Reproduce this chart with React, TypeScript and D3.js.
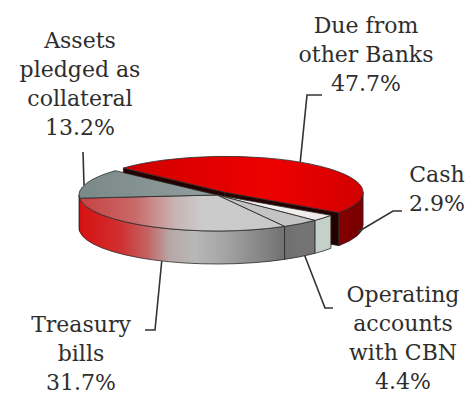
import React, { useEffect, useRef } from 'react'
import * as d3 from 'd3'

// slices in clockwise order, starting with the exploded one
const categories = ['Due from other Banks', 'Cash', 'Operating accounts with CBN', 'Treasury bills', 'Assets pledged as collateral']
const shares = [47.7, 2.9, 4.4, 31.7, 13.2]
const labelLines = [
  ['Due from', 'other Banks', '47.7%'],
  ['Cash', '2.9%'],
  ['Operating', 'accounts', 'with CBN', '4.4%'],
  ['Treasury', 'bills', '31.7%'],
  ['Assets', 'pledged as', 'collateral', '13.2%'],
]

const W = 472
const H = 403

const App: React.FC = () => {
  const svgRef = useRef<SVGSVGElement>(null)

  useEffect(() => {
    const svg = d3.select(svgRef.current)
    svg.selectAll('*').remove()

    const cx = 217, cy = 195, rx = 138, ry = 36, depth = 33
    const rad = (deg: number) => (deg * Math.PI) / 180
    const startDeg = 312.5
    const explode = [13, 0, 0, 0, 0]

    const pie = d3.pie<number>().sort(null)
      .startAngle(rad(startDeg))
      .endAngle(rad(startDeg + 360))
    const arcs = pie(shares)

    const offsetOf = (i: number) => {
      const mid = (arcs[i].startAngle + arcs[i].endAngle) / 2
      return [explode[i] * Math.sin(mid), -explode[i] * Math.cos(mid) * ry / rx]
    }
    const pt = (a: number, off: number[], drop = 0): [number, number] =>
      [cx + off[0] + rx * Math.sin(a), cy + off[1] - ry * Math.cos(a) + drop]
    const P = (p: [number, number]) => `${p[0].toFixed(2)},${p[1].toFixed(2)}`

    // colours
    const defs = svg.append('defs')
    const grad = (id: string, stops: [number, string][]) => {
      const g = defs.append('linearGradient').attr('id', id)
        .attr('gradientUnits', 'userSpaceOnUse')
        .attr('x1', cx - rx).attr('y1', 0).attr('x2', cx + rx).attr('y2', 0)
      stops.forEach(([o, c]) => g.append('stop').attr('offset', o).attr('stop-color', c))
    }
    grad('redTop', [[0, '#b80000'], [0.3, '#d80000'], [0.7, '#ee0000'], [1, '#d40000']])
    grad('redSide', [[0, '#a00000'], [0.75, '#b00000'], [1, '#7a0000']])
    grad('tbTop', [[0, '#c84040'], [0.2, '#c86868'], [0.35, '#c8b4b4'], [0.45, '#cccccc'], [0.75, '#c8c8c8'], [1, '#a8a8a8']])
    grad('tbSide', [[0, '#d81010'], [0.15, '#d03030'], [0.25, '#c46464'], [0.33, '#b8a8a8'], [0.42, '#b8b8b8'], [0.55, '#a0a0a0'], [0.75, '#707070'], [0.8, '#5a5a5a']])
    grad('apTop', [[0, '#7a8888'], [0.4, '#8e9a9a'], [1, '#a8b0b0']])
    grad('cashTop', [[0, '#ffffff'], [1, '#eee8e8']])
    grad('opSide', [[0.5, '#5a5a5a'], [0.8, '#747474']])

    const topFill = ['url(#redTop)', 'url(#cashTop)', '#c4c4c4', 'url(#tbTop)', 'url(#apTop)']
    const sideFill = ['url(#redSide)', '#c4d0c8', 'url(#opSide)', 'url(#tbSide)', '#7a8888']
    const cutFill = ['#240000', '#b0b0b0', '#555555', '#888888', '#6a7676']
    const stroke = '#2a2a2a'

    const g = svg.append('g')

    // radial cut faces of exploded slices
    arcs.forEach((d, i) => {
      if (!explode[i]) return
      const off = offsetOf(i)
      const c: [number, number] = [cx + off[0], cy + off[1]]
      ;[d.startAngle, d.endAngle].forEach(a => {
        const p = pt(a, off)
        g.append('path')
          .attr('d', `M${P(c)}L${P(p)}L${P([p[0], p[1] + depth])}L${P([c[0], c[1] + depth])}Z`)
          .attr('fill', cutFill[i]).attr('stroke', stroke).attr('stroke-width', 0.8)
      })
    })

    // outer walls (front half only)
    arcs.forEach((d, i) => {
      const off = offsetOf(i)
      ;[[Math.PI / 2, Math.PI * 1.5], [Math.PI * 2.5, Math.PI * 3.5]].forEach(([f0, f1]) => {
        const s = Math.max(d.startAngle, f0)
        const e = Math.min(d.endAngle, f1)
        if (e <= s) return
        const a = pt(s, off), b = pt(e, off)
        g.append('path')
          .attr('d', `M${P(a)}A${rx},${ry} 0 0 1 ${P(b)}L${P([b[0], b[1] + depth])}A${rx},${ry} 0 0 0 ${P([a[0], a[1] + depth])}Z`)
          .attr('fill', sideFill[i]).attr('stroke', stroke).attr('stroke-width', 0.8)
      })
    })

    // top faces
    arcs.forEach((d, i) => {
      const off = offsetOf(i)
      const c: [number, number] = [cx + off[0], cy + off[1]]
      const large = d.endAngle - d.startAngle > Math.PI ? 1 : 0
      g.append('path')
        .attr('d', `M${P(c)}L${P(pt(d.startAngle, off))}A${rx},${ry} 0 ${large} 1 ${P(pt(d.endAngle, off))}Z`)
        .attr('fill', topFill[i]).attr('stroke', stroke).attr('stroke-width', 0.8)
    })

    // labels: anchor on the pie (angle in degrees, drop as share of thickness), elbow, text block
    const labels = [
      { slice: 0, angle: 33, drop: 0, elbow: [307, 95], tail: [322, 95], x: 366, y: 33 },
      { slice: 0, angle: 106, drop: 0.9, elbow: [393, 211], tail: [402, 211], x: 437, y: 182 },
      { slice: 2, angle: 140.5, drop: 1, elbow: [325, 308], tail: [333, 308], x: 403, y: 302 },
      { slice: 3, angle: 203.6, drop: 1, elbow: [155, 330], tail: [145, 330], x: 81, y: 332 },
      { slice: 4, angle: 285.5, drop: 0, elbow: [83, 152], tail: [83, 152], x: 80, y: 48 },
    ]
    const lh = 29

    labels.forEach((l, k) => {
      const start = pt(rad(l.angle), offsetOf(l.slice), l.drop * depth)
      svg.append('path')
        .attr('d', `M${P(start)}L${l.elbow.join(',')}L${l.tail.join(',')}`)
        .attr('fill', 'none').attr('stroke', '#333').attr('stroke-width', 1.6)
      const t = svg.append('text')
        .attr('text-anchor', 'middle')
        .style('font-family', '"DejaVu Serif", serif')
        .style('font-size', '22px')
        .attr('fill', '#2e2e2e')
      labelLines[k].forEach((s, j) => {
        t.append('tspan').attr('x', l.x).attr('y', l.y + j * lh).text(s)
      })
      t.append('title').text(categories[k])
    })
  }, [])

  return (
    <svg ref={svgRef} width={W} height={H}
      style={{ position: 'absolute', left: 0, top: 0, background: '#fff' }} />
  )
}

export default App
